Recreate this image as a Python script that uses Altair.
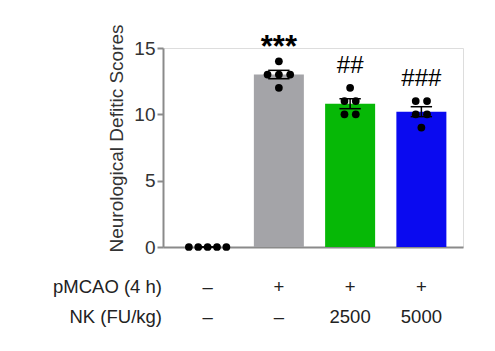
import altair as alt
import pandas as pd

# ---- data ----
groups = ["Sham", "pMCAO", "NK 2500", "NK 5000"]
sham = [0, 0, 0, 0, 0]
pmcao = [14, 13, 13, 13, 12]
nk2500 = [12, 11, 11, 10, 10]
nk5000 = [11, 11, 10, 10, 9]
series = [sham, pmcao, nk2500, nk5000]
annotations = ["", "***", "##", "###"]
row1_label = "pMCAO (4 h)"
row2_label = "NK (FU/kg)"
row1 = ["–", "+", "+", "+"]
row2 = ["–", "–", "2500", "5000"]
y_ticks = [0, 5, 10, 15]

# ---- styling ----
colors = ["#ffffff", "#a4a4a8", "#06b806", "#0a0af0"]
FONT = "Liberation Sans"
PX_PER_UNIT = 73.7
XDOM = [-0.556, 3.514]

# build tables
bar_rows, pt_rows = [], []
for i, (g, vals) in enumerate(zip(groups, series)):
    bar_rows.append({"idx": i, "group": g, "color": colors[i], "ann": annotations[i],
                     "max": max(vals), "star": annotations[i].startswith("*")})
    spacing = (9.7 if len(set(vals)) == 1 else 11.7) / PX_PER_UNIT
    counts = {}
    for v in vals:
        counts[v] = counts.get(v, 0) + 1
    seen = {}
    for v in vals:
        j = seen.get(v, 0)
        seen[v] = j + 1
        off = (j - (counts[v] - 1) / 2) * spacing
        pt_rows.append({"idx": i, "group": g, "value": v, "xpos": i + off})

pts = pd.DataFrame(pt_rows)
bars = pd.DataFrame(bar_rows)
tbl = pd.DataFrame({"idx": list(range(4)) * 2,
                    "row": [0] * 4 + [1] * 4,
                    "label": row1 + row2})
hdr = pd.DataFrame({"row": [0, 1], "label": [row1_label, row2_label]})

xscale = alt.Scale(domain=XDOM, nice=False, zero=False)
yscale = alt.Scale(domain=[0, 15], nice=False)

x_axis = alt.Axis(labels=False, ticks=False, title=None, grid=False,
                  domainColor="#8a8a8a", domainWidth=2, values=[0, 1, 2, 3])
y_axis = alt.Axis(title="Neurological Defitic Scores", values=y_ticks, grid=False,
                  domainColor="#8a8a8a", domainWidth=2, tickColor="#8a8a8a",
                  tickWidth=2, tickSize=6, labelPadding=2, labelFontSize=19,
                  labelColor="#333333", labelFont=FONT, titleFont=FONT,
                  titleFontSize=19, titleFontWeight="normal", titleColor="#333333",
                  titleX=-47, titleY=90, titleAlign="center", titleBaseline="middle",
                  titleAngle=-90)

stats = alt.Chart(pts).transform_aggregate(
    mean="mean(value)", sem="stderr(value)", groupby=["idx"]
).transform_calculate(
    lo="datum.mean - datum.sem", hi="datum.mean + datum.sem",
    cl="datum.idx - 0.15", cr="datum.idx + 0.15"
)

bar_layer = alt.Chart(pts).mark_bar(size=50).encode(
    x=alt.X("idx:Q", scale=xscale, axis=x_axis),
    y=alt.Y("mean(value):Q", scale=yscale, axis=y_axis),
    color=alt.Color("group:N", scale=alt.Scale(domain=groups, range=colors), legend=None),
)

err_v = stats.mark_rule(color="black", strokeWidth=1.5).encode(
    x=alt.X("idx:Q", scale=xscale), y=alt.Y("lo:Q", scale=yscale), y2="hi:Q")
cap_hi = stats.mark_rule(color="black", strokeWidth=1.5).encode(
    x=alt.X("cl:Q", scale=xscale), x2="cr:Q", y=alt.Y("hi:Q", scale=yscale))
cap_lo = stats.mark_rule(color="black", strokeWidth=1.5).encode(
    x=alt.X("cl:Q", scale=xscale), x2="cr:Q", y=alt.Y("lo:Q", scale=yscale))

dots = alt.Chart(pts).mark_circle(size=60, color="black", opacity=1).encode(
    x=alt.X("xpos:Q", scale=xscale), y=alt.Y("value:Q", scale=yscale))

ann_hash = alt.Chart(bars).transform_filter("!datum.star").mark_text(
    fontSize=24, font=FONT, color="black", dy=-22, baseline="middle").encode(
    x=alt.X("idx:Q", scale=xscale), y=alt.Y("max:Q", scale=yscale), text="ann:N")

ann_star = alt.Chart(bars).transform_filter("datum.star").mark_text(
    fontSize=31, font=FONT, color="black", dy=-4, baseline="alphabetic",
    fontWeight="bold").encode(
    x=alt.X("idx:Q", scale=xscale), y=alt.Y("max:Q", scale=yscale), text="ann:N")

tbl_text = alt.Chart(tbl).transform_calculate(
    ypx="datum.row == 0 ? 238.7 : 269"
).mark_text(fontSize=18.5, font=FONT, color="#222222", baseline="middle").encode(
    x=alt.X("idx:Q", scale=xscale), y=alt.Y("ypx:Q", scale=None), text="label:N")

hdr_text = alt.Chart(hdr).transform_calculate(
    ypx="datum.row == 0 ? 238.7 : 269"
).mark_text(fontSize=18.5, font=FONT, color="#222222", baseline="middle",
            align="right").encode(
    x=alt.value(-1), y=alt.Y("ypx:Q", scale=None), text="label:N")

chart = alt.layer(bar_layer, err_v, cap_hi, cap_lo, dots, ann_hash, ann_star,
                  tbl_text, hdr_text).properties(
    width=300, height=199,
    autosize=alt.AutoSizeParams(type="none"),
    padding={"left": 163, "top": 48, "right": 32, "bottom": 104},
).configure_view(stroke=None).configure(background="white")

chart.save("out.html", embed_options={"renderer": "svg", "actions": False})
